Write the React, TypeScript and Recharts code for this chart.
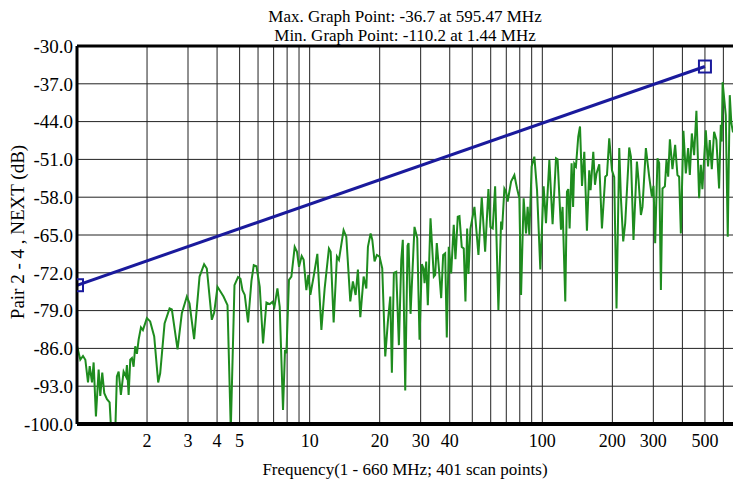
import { LineChart, Line, XAxis, YAxis, CartesianGrid, ReferenceLine } from 'recharts';

const FONT = '"Liberation Serif", "Times New Roman", serif';
const GREEN = '#1e8c1e';
const BLUE = '#1a1a9c';

// measured NEXT, pair 2-4 (MHz / dB)
const FREQ_MHZ = [
  1.00, 1.033, 1.061, 1.086, 1.115, 1.134, 1.160, 1.179, 1.206, 1.239,
  1.259, 1.284, 1.310, 1.345, 1.381, 1.44, 1.484, 1.510, 1.544, 1.586,
  1.623, 1.639, 1.667, 1.694, 1.722, 1.751, 1.779, 1.809, 1.840, 1.883,
  1.920, 1.997, 2.063, 2.147, 2.233, 2.278, 2.379, 2.500, 2.557, 2.705,
  2.822, 2.966, 3.046, 3.187, 3.363, 3.519, 3.614, 3.797, 3.885, 4.017,
  4.263, 4.435, 4.581, 4.752, 4.923, 5.042, 5.143, 5.260, 5.435, 5.621,
  5.751, 5.906, 6.101, 6.304, 6.520, 6.736, 6.918, 7.056, 7.269, 7.435,
  7.682, 7.834, 7.943, 8.150, 8.346, 8.623, 8.822, 8.999, 9.241, 9.424,
  9.678, 9.872, 10.07, 10.40, 10.79, 11.23, 11.60, 12.10, 12.31, 12.68,
  13.10, 13.36, 13.99, 14.37, 14.95, 15.34, 15.76, 16.12, 16.51, 17.06,
  17.52, 17.80, 18.28, 18.59, 19.01, 19.45, 19.97, 20.51, 21.13, 21.69,
  22.21, 22.56, 23.01, 23.56, 24.18, 24.76, 25.14, 25.75, 26.34, 26.61,
  27.14, 28.22, 29.00, 29.66, 30.34, 30.86, 31.17, 31.69, 32.20, 33.07,
  34.17, 34.64, 35.19, 35.89, 36.75, 37.48, 38.23, 38.85, 39.62, 40.57,
  41.62, 42.33, 43.30, 44.04, 45.05, 45.95, 46.73, 47.52, 48.14, 49.09,
  51.08, 53.14, 54.91, 56.78, 58.66, 59.83, 61.21, 62.68, 64.75, 66.49,
  67.14, 68.70, 69.86, 70.98, 73.40, 75.83, 77.88, 79.67, 81.02, 83.12,
  85.11, 86.47, 87.94, 89.97, 92.41, 94.91, 98.04, 101.3, 103.7, 107.2,
  110.7, 114.5, 116.3, 120.3, 122.2, 125.5, 127.6, 129.3, 131.0, 133.6,
  135.6, 137.2, 139.5, 142.7, 145.2, 148.1, 151.5, 155.5, 159.1, 161.2,
  165.6, 168.4, 171.0, 175.7, 180.4, 186.4, 189.6, 193.9, 199.2, 203.7,
  208.4, 214.1, 217.7, 222.7, 227.1, 236.3, 240.3, 246.5, 255.0, 259.0,
  265.3, 269.5, 278.7, 287.9, 295.7, 300.5, 305.5, 312.6, 317.9, 323.3,
  328.5, 336.3, 341.7, 347.5, 353.4, 362.5, 372.3, 380.9, 387.3, 393.9,
  404.1, 413.8, 423.3, 430.5, 439.1, 449.2, 459.5, 472.0, 480.0, 487.5,
  504.2, 515.7, 524.5, 535.0, 547.4, 560.0, 575.1, 584.8, 590.5, 595.47,
  614.4, 626.6, 639.2, 649.3, 660,
];

const NEXT_DB = [
  -85.5, -88.1, -87.4, -88.1, -92.3, -89.3, -92.3, -88.6, -98.6, -89.9,
  -94.8, -90.5, -94.3, -95.4, -96.0, -110.2, -91.2, -90.3, -94.6, -90.3,
  -91.2, -89.1, -94.6, -88.1, -87.8, -89.4, -85.6, -87.0, -84.4, -82.1,
  -82.6, -80.4, -81.0, -83.8, -92.3, -90.6, -81.4, -78.6, -78.8, -86.2,
  -79.5, -76.4, -77.7, -84.3, -72.7, -70.4, -71.2, -80.7, -79.4, -74.6,
  -76.4, -78.0, -101.0, -74.3, -72.8, -73.1, -75.2, -76.1, -81.2, -73.5,
  -70.6, -70.8, -74.6, -85.1, -77.5, -77.8, -77.4, -78.3, -74.9, -78.3,
  -97.4, -86.3, -86.9, -73.3, -72.7, -67.2, -68.1, -70.9, -68.9, -69.6,
  -75.2, -72.4, -76.1, -72.7, -68.5, -82.6, -74.9, -67.5, -68.1, -81.2,
  -69.0, -69.6, -64.1, -65.3, -77.3, -73.6, -76.1, -71.4, -80.2, -72.7,
  -74.9, -67.2, -64.7, -65.9, -69.9, -68.7, -69.0, -71.2, -87.5, -81.0,
  -76.4, -90.5, -72.0, -71.8, -85.4, -69.6, -65.9, -93.8, -67.0, -66.5,
  -79.6, -63.5, -65.6, -84.4, -70.4, -71.2, -73.9, -69.9, -78.0, -61.9,
  -72.7, -72.4, -66.5, -70.9, -76.7, -68.7, -68.4, -84.0, -67.2, -72.1,
  -63.1, -69.5, -61.6, -61.5, -67.2, -67.5, -77.3, -63.8, -72.2, -63.8,
  -59.8, -68.7, -58.0, -68.1, -56.5, -63.5, -63.8, -56.0, -78.9, -62.5,
  -64.0, -56.4, -57.0, -58.8, -55.1, -53.9, -56.4, -58.2, -76.1, -58.2,
  -64.7, -59.8, -65.0, -52.3, -50.5, -56.7, -71.4, -56.0, -62.8, -51.1,
  -63.0, -50.8, -51.0, -64.0, -59.8, -77.3, -57.0, -56.5, -63.8, -51.7,
  -59.8, -51.8, -52.3, -46.8, -44.9, -55.9, -49.6, -64.2, -53.0, -56.7,
  -49.6, -55.7, -53.6, -51.9, -63.8, -54.2, -53.9, -47.1, -53.0, -54.3,
  -78.6, -48.9, -58.2, -66.2, -62.8, -48.8, -50.5, -65.9, -51.4, -54.7,
  -61.3, -59.8, -48.9, -54.2, -57.9, -55.9, -66.5, -50.8, -51.7, -75.2,
  -56.4, -56.0, -51.1, -54.2, -47.3, -52.8, -48.3, -53.9, -54.2, -64.7,
  -45.7, -53.6, -48.9, -53.9, -46.2, -50.2, -42.0, -58.2, -52.0, -56.5,
  -45.6, -52.3, -47.4, -52.8, -45.9, -47.4, -56.4, -44.6, -47.7, -36.7,
  -42.8, -65.3, -39.1, -44.3, -46.0,
];

// limit line end points
const LIMIT_FREQ = [1, 500];
const LIMIT_DB = [-74.3, -33.8];

const X_TICKS = [2, 3, 4, 5, 10, 20, 30, 40, 100, 200, 300, 500];
const X_GRID = [2, 3, 4, 5, 6, 7, 8, 9, 10, 20, 30, 40, 50, 60, 70, 80, 90, 100, 200, 300, 400, 500, 600];
const Y_TICKS = [-100, -93, -86, -79, -72, -65, -58, -51, -44, -37, -30];

const measured = FREQ_MHZ.map((f, i) => ({ f, v: NEXT_DB[i] }));
const limit = LIMIT_FREQ.map((f, i) => ({ f, v: LIMIT_DB[i] }));

const SquareDot = (props: any) => {
  const { cx, cy, index } = props;
  if (cx == null || cy == null) return null;
  return (
    <rect key={`sq-${index}`} x={cx - 6} y={cy - 6} width={12} height={12}
      fill="none" stroke={BLUE} strokeWidth={2} />
  );
};

export default function App() {
  const text = { fontFamily: FONT, color: '#000' };
  return (
    <div style={{ position: 'absolute', left: 0, top: 0, width: 733, height: 485, background: '#fff' }}>
      <div style={{ ...text, fontSize: 17, position: 'absolute', left: 77, top: 7, width: 656, textAlign: 'center', lineHeight: '19px' }}>
        <div>Max. Graph Point: -36.7 at 595.47 MHz</div>
        <div>Min. Graph Point: -110.2 at 1.44 MHz</div>
      </div>
      <div style={{ ...text, fontSize: 17, position: 'absolute', left: 77, top: 460, width: 656, textAlign: 'center' }}>
        Frequency(1 - 660 MHz; 401 scan points)
      </div>
      <div style={{
        ...text, fontSize: 19, position: 'absolute', left: 18, top: 232, whiteSpace: 'nowrap',
        transform: 'translate(-50%, -50%) rotate(-90deg)',
      }}>
        Pair 2 - 4 , NEXT (dB)
      </div>

      <LineChart width={733} height={485} margin={{ top: 46, right: 0, bottom: 31, left: 17 }}>
        <CartesianGrid vertical={false} stroke="#222" />
        {X_GRID.map(g => (
          <ReferenceLine key={g} x={g} stroke="#222" strokeWidth={1} />
        ))}
        <ReferenceLine y={-30} stroke="#000" strokeWidth={3} />
        <XAxis
          dataKey="f"
          type="number"
          scale="log"
          domain={[1, 660]}
          allowDataOverflow
          ticks={X_TICKS}
          interval={0}
          height={30}
          tickLine={false}
          tickSize={6}
          tickMargin={4}
          axisLine={{ stroke: '#000', strokeWidth: 4 }}
          tick={{ fill: '#000', fontSize: 18, fontFamily: FONT }}
        />
        <YAxis
          type="number"
          domain={[-100, -30]}
          allowDataOverflow
          ticks={Y_TICKS}
          interval={0}
          width={60}
          tickLine={false}
          tickSize={2}
          tickMargin={2}
          tickFormatter={(v: number) => v.toFixed(1)}
          axisLine={{ stroke: '#000', strokeWidth: 3 }}
          tick={{ fill: '#000', fontSize: 19, fontFamily: FONT }}
        />
        <Line
          data={measured}
          dataKey="v"
          type="linear"
          stroke={GREEN}
          strokeWidth={2}
          dot={false}
          isAnimationActive={false}
        />
        <Line
          data={limit}
          dataKey="v"
          type="linear"
          stroke={BLUE}
          strokeWidth={3}
          dot={SquareDot}
          isAnimationActive={false}
        />
      </LineChart>
    </div>
  );
}
